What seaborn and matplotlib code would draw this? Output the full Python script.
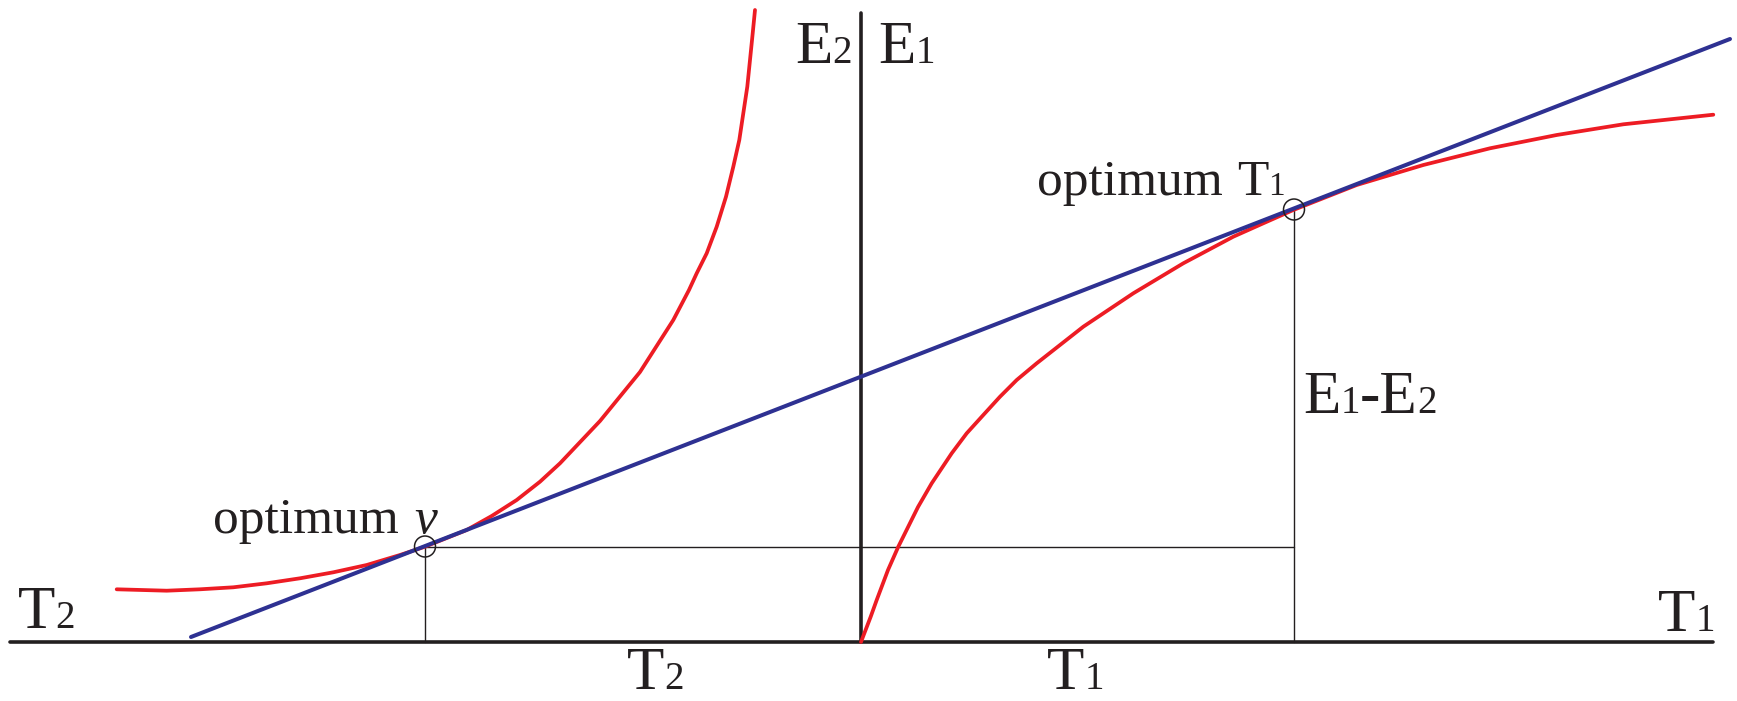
import matplotlib
matplotlib.use("Agg")
import matplotlib.pyplot as plt
import seaborn as sns

# Energy curve on the T1 side (starts at the origin, bends over)
t1_x = [0.0, 0.097, 0.157, 0.27, 0.373, 0.57, 0.707, 0.907, 1.057, 1.223,
        1.39, 1.557, 1.757, 1.99, 2.223, 2.473, 2.723, 2.973, 3.223, 3.473,
        3.723, 4.023, 4.323, 4.957, 5.623, 6.29, 6.957, 7.623, 8.523]
t1_y = [0.0, 0.253, 0.42, 0.72, 0.953, 1.35, 1.587, 1.887, 2.087, 2.27,
        2.453, 2.62, 2.787, 2.97, 3.153, 3.32, 3.487, 3.637, 3.787, 3.92,
        4.053, 4.187, 4.32, 4.57, 4.77, 4.937, 5.07, 5.177, 5.273]

# Energy curve on the T2 side (flat on the far left, rising steeply)
t2_x = [-7.443, -6.943, -6.61, -6.277, -5.943, -5.61, -5.277, -4.943, -4.61,
        -4.36, -3.943, -3.693, -3.443, -3.21, -3.01, -2.61, -2.21, -1.877,
        -1.72, -1.643, -1.543, -1.443, -1.35, -1.277, -1.217, -1.177, -1.137,
        -1.11, -1.083, -1.06]
t2_y = [0.527, 0.513, 0.527, 0.547, 0.587, 0.637, 0.697, 0.77, 0.87,
        0.953, 1.12, 1.26, 1.42, 1.603, 1.787, 2.21, 2.70, 3.22,
        3.52, 3.687, 3.887, 4.153, 4.453, 4.753, 5.02, 5.287, 5.553,
        5.82, 6.087, 6.32]

# Common tangent touching both curves
tangent_x = [-6.70, 8.69]
tangent_y = [0.05, 6.03]

# Tangent points
opt_x = [-4.36, 4.33]
opt_y = [0.955, 4.325]

# Axis extents
haxis_x = [-8.51, 8.52]
vaxis_y = [0.0, 6.29]

INK = "#231f20"
RED = "#ed1c24"
BLUE = "#2e3192"

sns.set_theme(style="white")
plt.rcParams["font.family"] = ["Liberation Serif", "DejaVu Serif"]

fig = plt.figure(figsize=(17.37, 7.01), dpi=100)
ax = fig.add_axes([0, 0, 1, 1])
ax.set_xlim(-8.61, 8.76)
ax.set_ylim(-0.59, 6.42)
ax.set_axis_off()


def seg(xs, ys, color, lw, z):
    sns.lineplot(x=xs, y=ys, ax=ax, color=color, linewidth=lw,
                 estimator=None, sort=False, zorder=z)


# thin guide lines from the tangent points
seg([opt_x[0], opt_x[1]], [opt_y[0], opt_y[0]], INK, 1.0, 1)
seg([opt_x[0], opt_x[0]], [0.0, opt_y[0]], INK, 1.0, 1)
seg([opt_x[1], opt_x[1]], [0.0, opt_y[1]], INK, 1.0, 1)

# main axes
seg(haxis_x, [0.0, 0.0], INK, 2.6, 2)
seg([0.0, 0.0], vaxis_y, INK, 2.6, 2)

# energy curves and tangent
seg(t1_x, t1_y, RED, 2.7, 3)
seg(t2_x, t2_y, RED, 2.7, 3)
seg(tangent_x, tangent_y, BLUE, 2.9, 4)

sns.scatterplot(x=opt_x, y=opt_y, ax=ax, s=228, facecolors="none",
                edgecolors=INK, linewidths=1.1, marker="o", zorder=5)


def label(parts, x, y):
    prev = None
    for text, size, style, gap in parts:
        kw = dict(fontsize=size, fontstyle=style, color=INK,
                  va="baseline", ha="left", zorder=6)
        if prev is None:
            prev = ax.text(x, y, text, **kw)
        else:
            prev = ax.annotate(text, xy=(1, y), xycoords=(prev, "data"),
                               xytext=(gap, 0), textcoords="offset points",
                               **kw)
    return prev


BIG, SUB = 44, 28
OPT, OSUB = 37, 24

label([("T", BIG, "normal", 0), ("2", SUB, "normal", 0)], -8.43, 0.14)
label([("E", BIG, "normal", 0), ("2", SUB, "normal", 0)], -0.66, 5.79)
label([("E", BIG, "normal", 0), ("1", SUB, "normal", 0)], 0.17, 5.79)
label([("T", BIG, "normal", 0), ("1", SUB, "normal", 0)], 7.97, 0.11)
label([("T", BIG, "normal", 0), ("2", SUB, "normal", 0)], -2.34, -0.47)
label([("T", BIG, "normal", 0), ("1", SUB, "normal", 0)], 1.86, -0.47)
label([("E", BIG, "normal", 0), ("1", SUB, "normal", 0),
       ("-E", BIG, "normal", 0), ("2", SUB, "normal", 0)], 4.42, 2.29)
label([("optimum", OPT, "normal", 0), ("v", OPT, "italic", 11)], -6.48, 1.09)
label([("optimum", OPT, "normal", 0), ("T", OPT, "normal", 10),
       ("1", OSUB, "normal", 0)], 1.76, 4.47)

fig.savefig("out.png", dpi=100)
